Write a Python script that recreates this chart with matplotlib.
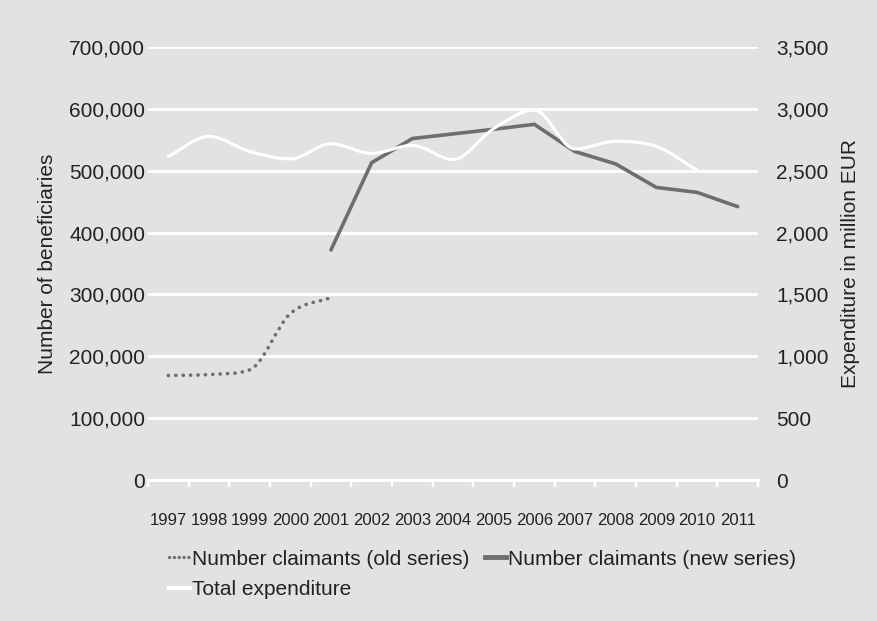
import numpy as np
import matplotlib.pyplot as plt
from matplotlib.path import Path
from matplotlib.patches import PathPatch
from matplotlib.lines import Line2D
from matplotlib.ticker import FuncFormatter, FixedLocator

plt.rcParams['font.family'] = ['Liberation Sans', 'DejaVu Sans']

years = ['1997', '1998', '1999', '2000', '2001', '2002', '2003', '2004',
         '2005', '2006', '2007', '2008', '2009', '2010', '2011']
# number of claimants, old series (1997-2001)
old_series = [169000, 170500, 178000, 269000, 295000]
# number of claimants, new series (2001-2011)
new_series = [372000, 513000, 552000, 559500, 567000, 575000,
              531000, 511000, 473000, 465000, 442000]
# total expenditure, million EUR (1997-2010)
total_exp = [2615, 2778, 2656, 2595, 2718, 2640, 2705, 2590,
             2840, 2990, 2676, 2737, 2697, 2505]

bg = '#e1e2e4'
grey = '#6d6e70'


def smooth_path(xs, ys):
    # smoothed line through every point (cubic bezier, no overshoot)
    xs = np.asarray(xs, float)
    ys = np.asarray(ys, float)
    n = len(xs)
    d = np.diff(ys) / np.diff(xs)
    m = np.zeros(n)
    m[0], m[-1] = d[0], d[-1]
    for i in range(1, n - 1):
        if d[i - 1] * d[i] <= 0:
            m[i] = 0
        else:
            m[i] = (d[i - 1] + d[i]) / 2
            lim = 3 * min(abs(d[i - 1]), abs(d[i]))
            m[i] = np.sign(m[i]) * min(abs(m[i]), lim)
    verts = [(xs[0], ys[0])]
    codes = [Path.MOVETO]
    for i in range(n - 1):
        h = xs[i + 1] - xs[i]
        verts += [(xs[i] + h / 3, ys[i] + m[i] * h / 3),
                  (xs[i + 1] - h / 3, ys[i + 1] - m[i + 1] * h / 3),
                  (xs[i + 1], ys[i + 1])]
        codes += [Path.CURVE4] * 3
    return Path(verts, codes)


fig = plt.figure(figsize=(8.77, 6.21), dpi=100, facecolor=bg)
ax = fig.add_axes([148 / 877, 1 - 480 / 621, 610 / 877, 433 / 621])
ax.set_facecolor(bg)
ax2 = ax.twinx()

x = np.arange(len(years))

# old series, dotted smoothed line
old_path = smooth_path(x[:len(old_series)], old_series)
ax.add_patch(PathPatch(old_path, fill=False, edgecolor=grey, lw=2.6,
                       linestyle=(0, (0.05, 2.0)), capstyle='round', zorder=3))

# new series
ax.plot(x[4:4 + len(new_series)], new_series, color=grey, lw=2.6, zorder=4,
        solid_capstyle='round', solid_joinstyle='miter')

# total expenditure, white smoothed line on right axis
exp_path = smooth_path(x[:len(total_exp)], total_exp)
ax2.add_patch(PathPatch(exp_path, fill=False, edgecolor='white', lw=2.2,
                        capstyle='round', zorder=3))

ax.set_xlim(-0.5, len(years) - 0.5)
ax.set_ylim(0, 700000)
ax2.set_ylim(0, 3500)

ax.set_yticks(np.arange(0, 700001, 100000))
ax2.set_yticks(np.arange(0, 3501, 500))
fmt = FuncFormatter(lambda v, p: f'{v:,.0f}')
ax.yaxis.set_major_formatter(fmt)
ax2.yaxis.set_major_formatter(fmt)

ax.grid(axis='y', color='white', lw=2)
ax.set_axisbelow(True)

for s in ax.spines.values():
    s.set_visible(False)
for s in ax2.spines.values():
    s.set_visible(False)
ax.spines['bottom'].set_visible(True)
ax.spines['bottom'].set_color('white')
ax.spines['bottom'].set_linewidth(2.2)

ax.set_xticks(x)
ax.set_xticklabels(years, fontsize=12, color='#222222')
ax.xaxis.set_minor_locator(FixedLocator(np.arange(-0.5, len(years), 1.0)))
ax.tick_params(axis='x', which='major', length=0, pad=24)
ax.tick_params(axis='x', which='minor', length=5, width=1.6, color='white')
ax.tick_params(axis='y', length=0, pad=2, labelsize=15, labelcolor='#222222')
ax2.tick_params(axis='y', length=0, pad=13, labelsize=15, labelcolor='#222222')

ax.set_ylabel('Number of beneficiaries', fontsize=15, color='#222222', labelpad=9)
ax2.set_ylabel('Expenditure in million EUR', fontsize=15, color='#222222', labelpad=9)

handles = [
    Line2D([], [], color=grey, lw=2.4, linestyle=(0, (0.05, 1.4)),
           dash_capstyle='round'),
    Line2D([], [], color='white', lw=3),
    Line2D([], [], color=grey, lw=3.5),
]
labels = ['Number claimants (old series)', 'Total expenditure',
          'Number claimants (new series)']
fig.legend(handles, labels, loc='upper left', bbox_to_anchor=(150 / 877, 1 - 531 / 621),
           ncol=2, frameon=False, fontsize=15, handlelength=1.0,
           handletextpad=0.1, columnspacing=0.75, labelspacing=0.55,
           labelcolor='#222222')

fig.savefig('out.png', dpi=100, facecolor=bg)
